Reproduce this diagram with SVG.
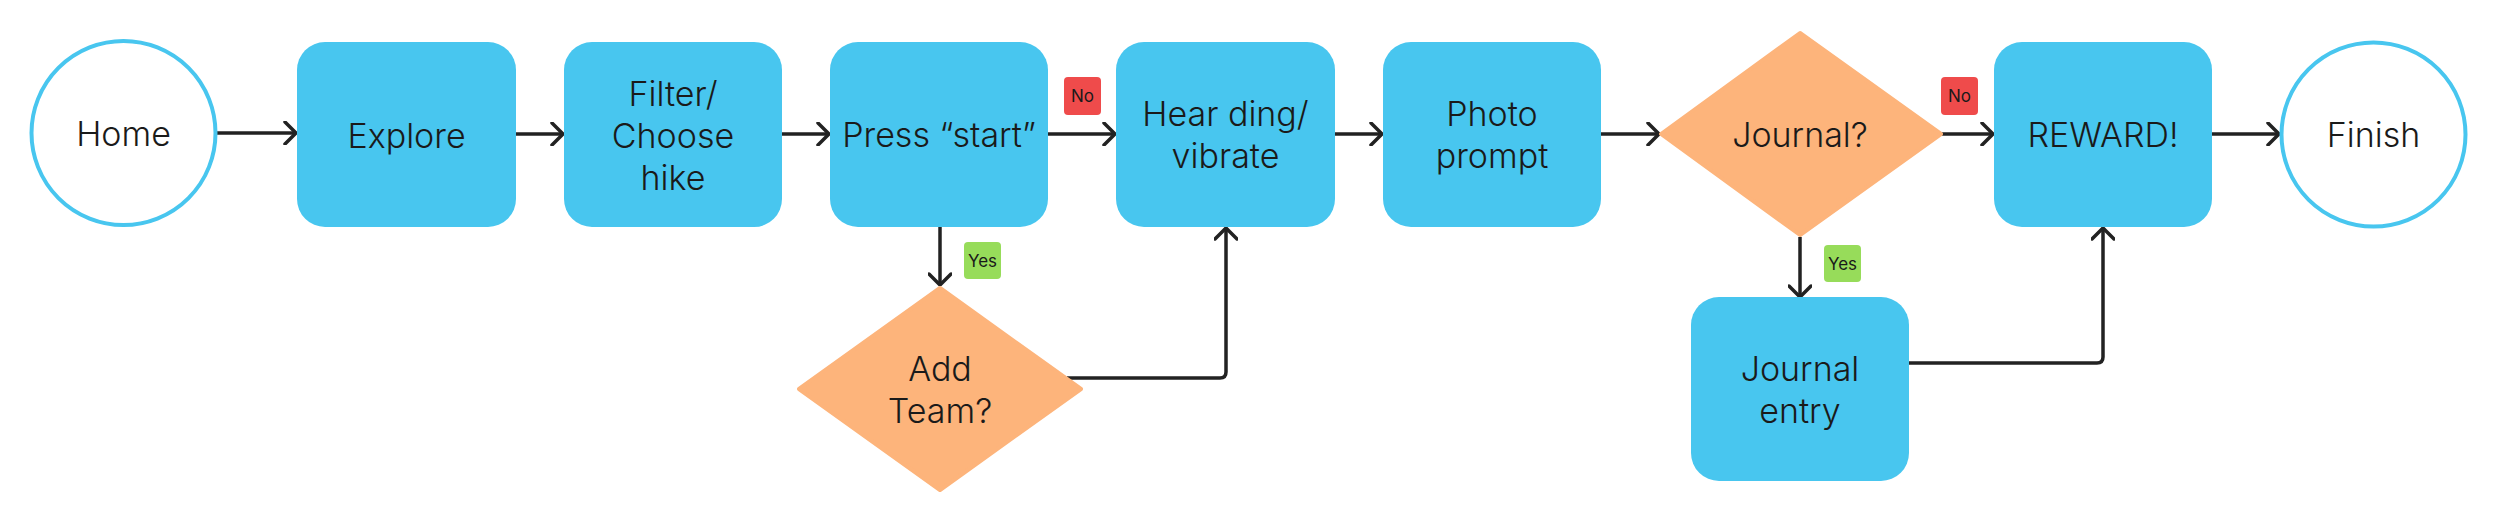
<svg xmlns="http://www.w3.org/2000/svg" width="2500" height="506" viewBox="0 0 2500 506">
<style>
.box{fill:#48C6EF}
.dia{fill:#FDB47B;stroke:#FDB47B;stroke-width:4;stroke-linejoin:round}
.term{fill:#fff;stroke:#48C6EF;stroke-width:4}
.t{font-family:Inter,"Liberation Sans",sans-serif;font-weight:300;font-size:34px;fill:#1a1a1a;text-anchor:middle;dominant-baseline:central}
.lbl{font-family:Inter,"Liberation Sans",sans-serif;font-size:17px;fill:#1a1a1a;text-anchor:middle;dominant-baseline:central}
.c{fill:none;stroke:#222;stroke-width:3.5;stroke-linejoin:round}
</style>
<defs>
<marker id="ah" viewBox="0 0 14 24" refX="13" refY="12" markerWidth="14" markerHeight="24" markerUnits="userSpaceOnUse" orient="auto">
<path d="M2 1 L13 12 L2 23" fill="none" stroke="#222" stroke-width="3.5" stroke-linecap="round" stroke-linejoin="round"/>
</marker>
</defs>
<g id="connectors">
<path class="c" d="M217 133 H296" marker-end="url(#ah)"/>
<path class="c" d="M516 134 H563" marker-end="url(#ah)"/>
<path class="c" d="M782 134 H829" marker-end="url(#ah)"/>
<path class="c" d="M1048 134 H1115" marker-end="url(#ah)"/>
<path class="c" d="M1335 134 H1382" marker-end="url(#ah)"/>
<path class="c" d="M1601 134 H1659" marker-end="url(#ah)"/>
<path class="c" d="M1942 134 H1993" marker-end="url(#ah)"/>
<path class="c" d="M2212 134 H2279" marker-end="url(#ah)"/>
<path class="c" d="M940 227 V285" marker-end="url(#ah)"/>
<path class="c" d="M1800 237 V297" marker-end="url(#ah)"/>
<path class="c" d="M1067 378 H1220 Q1226 378 1226 372 V228" marker-end="url(#ah)"/>
<path class="c" d="M1909 363 H2097 Q2103 363 2103 357 V228" marker-end="url(#ah)"/>
</g>
<g id="label-no-1"><rect x="1064" y="77" width="37" height="38" rx="4" fill="#EF4B4B"/><text class="lbl" x="1082.5" y="96">No</text></g>
<g id="label-yes-1"><rect x="964" y="242" width="37" height="37" rx="4" fill="#97DC5A"/><text class="lbl" x="982.5" y="261">Yes</text></g>
<g id="label-no-2"><rect x="1941" y="77" width="37" height="38" rx="4" fill="#EF4B4B"/><text class="lbl" x="1959.5" y="96">No</text></g>
<g id="label-yes-2"><rect x="1824" y="245" width="37" height="37" rx="4" fill="#97DC5A"/><text class="lbl" x="1842.5" y="264">Yes</text></g>
<g id="home"><ellipse class="term" cx="123.5" cy="133" rx="92" ry="92"/><text class="t" x="123.5" y="133">Home</text></g>
<g id="explore"><rect class="box" x="297" y="42" width="219" height="185" rx="28"/><text class="t" x="406.5" y="135">Explore</text></g>
<g id="filter"><rect class="box" x="564" y="42" width="218" height="185" rx="28"/><text class="t" x="673" y="93">Filter/</text><text class="t" x="673" y="135">Choose</text><text class="t" x="673" y="177">hike</text></g>
<g id="press-start"><rect class="box" x="830" y="42" width="218" height="185" rx="28"/><text class="t" x="939" y="134">Press “start”</text></g>
<g id="hear-ding"><rect class="box" x="1116" y="42" width="219" height="185" rx="28"/><text class="t" x="1225.5" y="113">Hear ding/</text><text class="t" x="1225.5" y="155">vibrate</text></g>
<g id="photo-prompt"><rect class="box" x="1383" y="42" width="218" height="185" rx="28"/><text class="t" x="1492" y="113">Photo</text><text class="t" x="1492" y="155">prompt</text></g>
<g id="journal-q"><polygon class="dia" points="1800,33 1941,134 1800,235 1661,134"/><text class="t" x="1800" y="134">Journal?</text></g>
<g id="reward"><rect class="box" x="1994" y="42" width="218" height="185" rx="28"/><text class="t" x="2103" y="134">REWARD!</text></g>
<g id="finish"><ellipse class="term" cx="2373.5" cy="134.5" rx="92" ry="92"/><text class="t" x="2373.5" y="134.5">Finish</text></g>
<g id="add-team"><polygon class="dia" points="940,288 1081,389 940,490 799,389"/><text class="t" x="940" y="368">Add</text><text class="t" x="940" y="410">Team?</text></g>
<g id="journal-entry"><rect class="box" x="1691" y="297" width="218" height="184" rx="28"/><text class="t" x="1800" y="368">Journal</text><text class="t" x="1800" y="410">entry</text></g>
</svg>
